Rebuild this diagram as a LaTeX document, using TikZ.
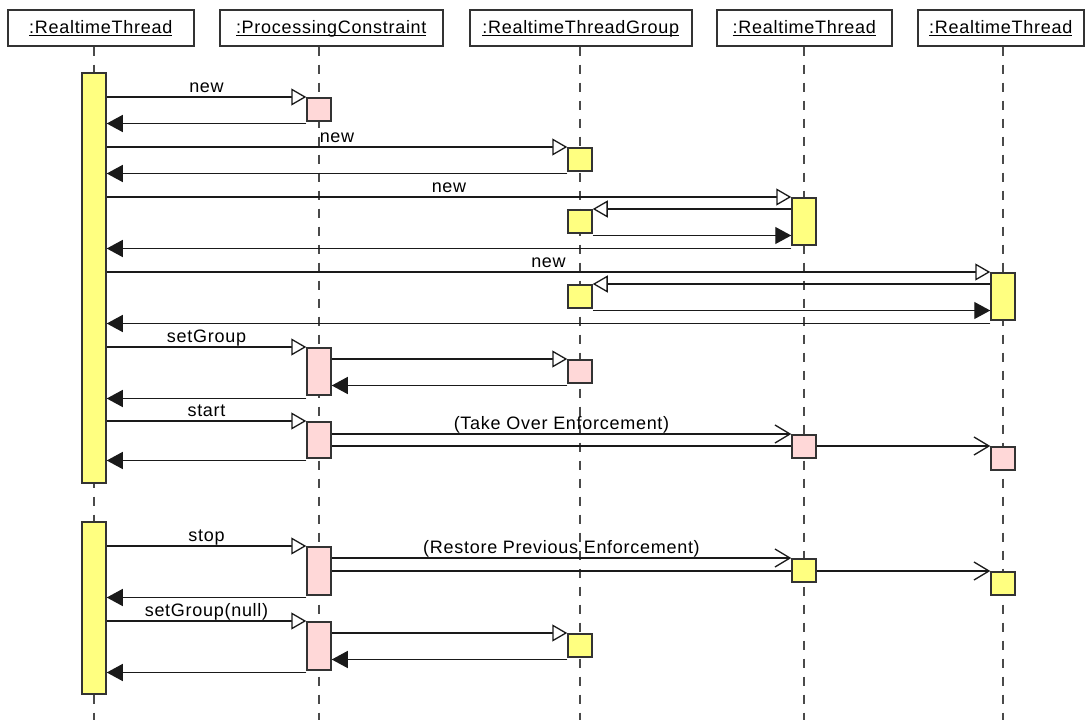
\documentclass[tikz,border=0pt]{standalone}
\usepackage{fontspec}
\setmainfont{Liberation Sans}[LetterSpace=4]
\usetikzlibrary{arrows.meta, positioning, backgrounds}

\definecolor{actyellow}{HTML}{FFFF80}
\definecolor{actpink}{HTML}{FFD8D8}
\definecolor{boxgray}{HTML}{333333}
\definecolor{lifegray}{HTML}{4A4A4A}
\definecolor{msgblack}{HTML}{1A1A1A}

\newcommand{\objname}[1]{\setbox0\hbox{#1}\rlap{\rule[-2.5pt]{\wd0}{1pt}}\box0}

\begin{document}
\begin{tikzpicture}[x=1pt, y=-1pt, font=\fontsize{18}{21}\selectfont]
            \tikzstyle{head}   = [draw=boxgray, line width=1.5pt, fill=white, minimum height=36pt, inner sep=0pt, anchor=north west, text height=13pt, text depth=2pt]
            \tikzstyle{bar}    = [draw=boxgray, line width=1.5pt, minimum width=24pt, inner sep=0pt, anchor=north]
            \tikzstyle{box}    = [bar, minimum height=23pt]
            \tikzstyle{life}   = [lifegray, line width=1.5pt, dash pattern=on 9pt off 9pt]
            \tikzstyle{call}   = [msgblack, line width=1.3pt, -{Triangle[length=15pt, width=17pt, fill=white]}]
            \tikzstyle{reply}  = [msgblack, line width=1.3pt, -{Triangle[length=16pt, width=17pt]}]
            \tikzstyle{signal} = [msgblack, line width=1.3pt, -{Straight Barb[length=15pt, width=18pt]}]
            \tikzstyle{msg}    = [midway, anchor=base, yshift=5pt, inner sep=0pt, text=black]

            \useasboundingbox (0,0) rectangle (1085,720);

            % Objects .........................
            \node[head, minimum width=186pt] (h1) at (7,9)   {\objname{:RealtimeThread}};
            \node[head, minimum width=223pt] (h2) at (219,9) {\objname{:ProcessingConstraint}};
            \node[head, minimum width=222pt] (h3) at (469,9) {\objname{:RealtimeThreadGroup}};
            \node[head, minimum width=175pt] (h4) at (716,9) {\objname{:RealtimeThread}};
            \node[head, minimum width=166pt] (h5) at (917,9) {\objname{:RealtimeThread}};

            % Activations .........................
            \node[bar, fill=actyellow, minimum height=410pt] (a1) at (94,72)  {};
            \node[bar, fill=actyellow, minimum height=172pt] (a2) at (94,521) {};

            \node[box, fill=actpink]   (p1) at (319,97)  {};
            \node[box, fill=actyellow] (g1) at (580,147) {};
            \node[bar, fill=actyellow, minimum height=47pt] (r1) at (804,197) {};
            \node[box, fill=actyellow] (g2) at (580,209) {};
            \node[bar, fill=actyellow, minimum height=47pt] (r2) at (1003,272) {};
            \node[box, fill=actyellow] (g3) at (580,284) {};

            \node[bar, fill=actpink, minimum height=47pt] (p2) at (319,347) {};
            \node[box, fill=actpink]   (g4) at (580,359) {};
            \node[bar, fill=actpink, minimum height=36pt] (p3) at (319,421) {};
            \node[box, fill=actpink]   (r3) at (804,434) {};
            \node[box, fill=actpink]   (r4) at (1003,446) {};

            \node[bar, fill=actpink, minimum height=48pt] (p4) at (319,546) {};
            \node[box, fill=actyellow] (r5) at (804,558) {};
            \node[box, fill=actyellow] (r6) at (1003,571) {};
            \node[bar, fill=actpink, minimum height=48pt] (p5) at (319,621) {};
            \node[box, fill=actyellow] (g5) at (580,633) {};

            \begin{pgfonlayer}{background}
            % Lifelines .........................
            \draw[life] (a1.north |- h1.south) -- (a1.north |- 0,720);
            \draw[life] (p1.north |- h2.south) -- (p1.north |- 0,720);
            \draw[life] (g1.north |- h3.south) -- (g1.north |- 0,720);
            \draw[life] (r1.north |- h4.south) -- (r1.north |- 0,720);
            \draw[life] (r2.north |- h5.south) -- (r2.north |- 0,720);

            % Creation .........................
            \draw[call] (a1.east |- p1.north) -- (p1.north west) node[msg] {new};
            \draw[reply] ([yshift=-2pt]p1.south west) -- ([yshift=-2pt]a1.east |- p1.south);

            \draw[call] (a1.east |- g1.north) -- (g1.north west) node[msg] {new};
            \draw[reply] ([yshift=-2pt]g1.south west) -- ([yshift=-2pt]a1.east |- g1.south);

            \draw[call] (a1.east |- r1.north) -- (r1.north west) node[msg] {new};
            \draw[call] (r1.west |- g2.north) -- (g2.north east);
            \draw[reply] ([yshift=-2pt]g2.south east) -- ([yshift=-2pt]r1.west |- g2.south);
            \draw[reply] ([yshift=-3pt]r1.south west) -- ([yshift=-3pt]a1.east |- r1.south);

            \draw[call] (a1.east |- r2.north) -- (r2.north west) node[msg] {new};
            \draw[call] (r2.west |- g3.north) -- (g3.north east);
            \draw[reply] ([yshift=-2pt]g3.south east) -- ([yshift=-2pt]r2.west |- g3.south);
            \draw[reply] ([yshift=-3pt]r2.south west) -- ([yshift=-3pt]a1.east |- r2.south);

            % setGroup and start .........................
            \draw[call] (a1.east |- p2.north) -- (p2.north west) node[msg] {setGroup};
            \draw[call] (p2.east |- g4.north) -- (g4.north west);
            \draw[reply] ([yshift=-2pt]g4.south west) -- ([yshift=-2pt]p2.east |- g4.south);
            \draw[reply] ([yshift=-3pt]p2.south west) -- ([yshift=-3pt]a1.east |- p2.south);

            \draw[call] (a1.east |- p3.north) -- (p3.north west) node[msg] {start};
            \draw[signal] (p3.east |- r3.north) -- (r3.north west) node[msg] {(Take Over Enforcement)};
            \draw[signal] (p3.east |- r4.north) -- (r4.north west);
            \draw[reply] ([yshift=-2pt]p3.south west) -- ([yshift=-2pt]a1.east |- p3.south);

            % stop and setGroup(null) .........................
            \draw[call] (a2.east |- p4.north) -- (p4.north west) node[msg] {stop};
            \draw[signal] (p4.east |- r5.north) -- (r5.north west) node[msg] {(Restore Previous Enforcement)};
            \draw[signal] (p4.east |- r6.north) -- (r6.north west);
            \draw[reply] ([yshift=-2pt]p4.south west) -- ([yshift=-2pt]a2.east |- p4.south);

            \draw[call] (a2.east |- p5.north) -- (p5.north west) node[msg] {setGroup(null)};
            \draw[call] (p5.east |- g5.north) -- (g5.north west);
            \draw[reply] ([yshift=-2pt]g5.south west) -- ([yshift=-2pt]p5.east |- g5.south);
            \draw[reply] ([yshift=-2pt]p5.south west) -- ([yshift=-2pt]a2.east |- p5.south);
            \end{pgfonlayer}

        \end{tikzpicture}
\end{document}
